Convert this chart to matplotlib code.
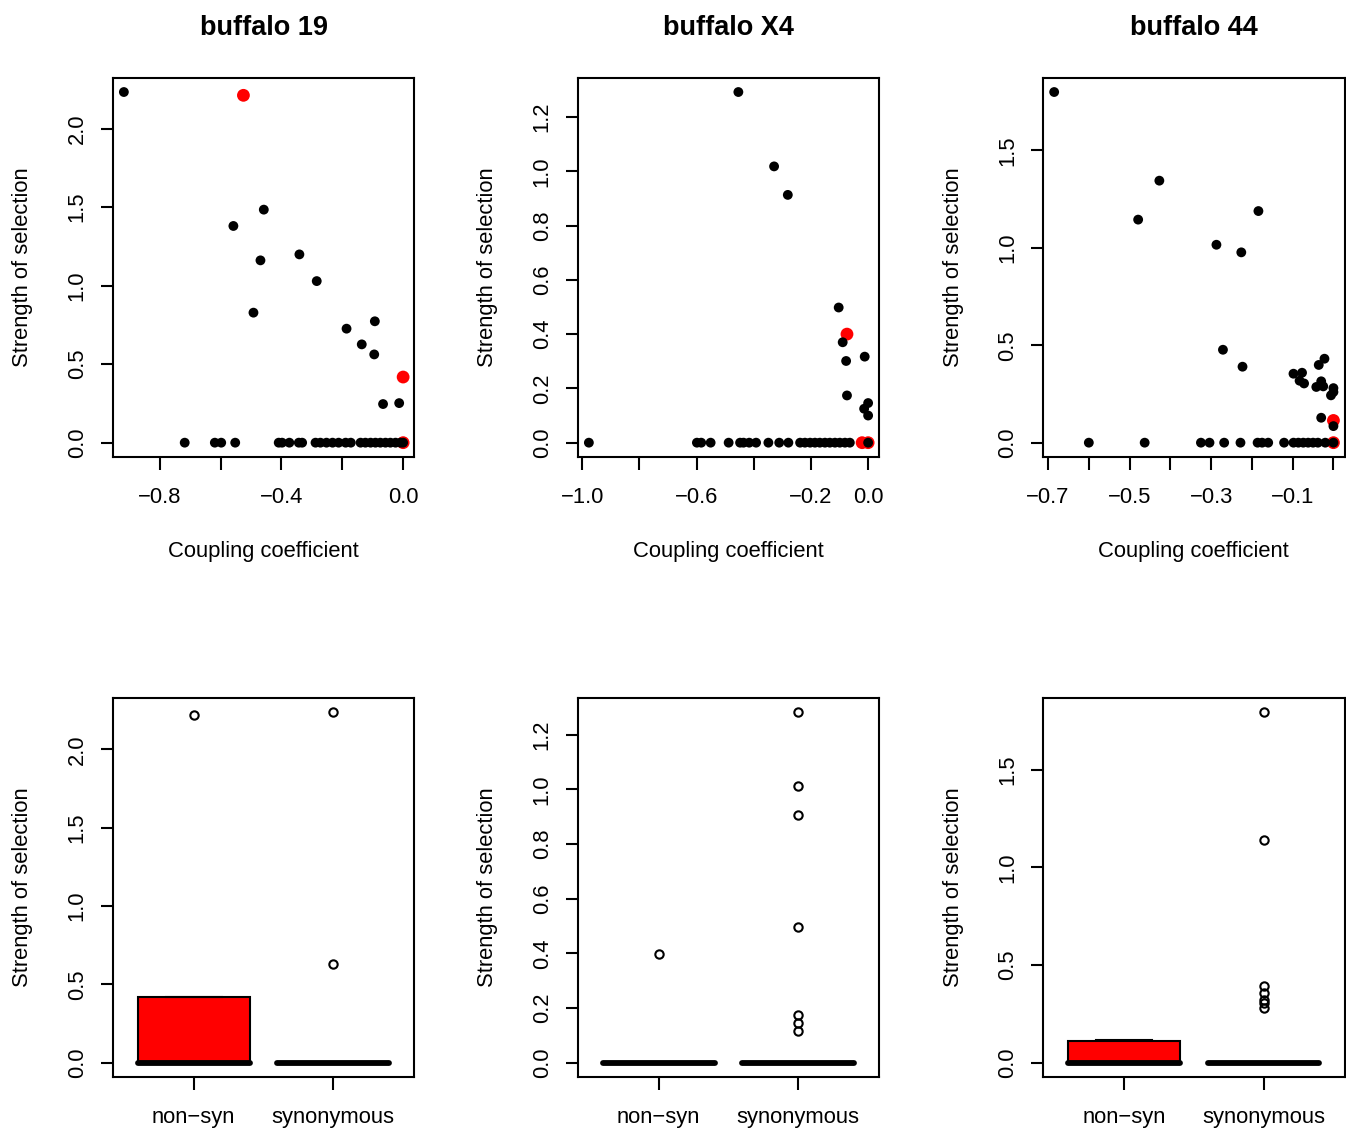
import numpy as np
import matplotlib.pyplot as plt

plt.rcParams['font.family'] = ['Liberation Sans', 'DejaVu Sans']

titles = ["buffalo 19", "buffalo X4", "buffalo 44"]

# --- scatter data: synonymous (black) and non-syn (red) ---
syn_x1 = [-0.918, -0.458, -0.558, -0.469, -0.341, -0.284, -0.492, -0.186, -0.093,
          -0.136, -0.095, -0.066, -0.013,
          -0.718, -0.619, -0.598, -0.552, -0.409, -0.398, -0.374, -0.343, -0.332,
          -0.288, -0.272, -0.252, -0.232, -0.212, -0.189, -0.172, -0.140, -0.124,
          -0.107, -0.091, -0.075, -0.058, -0.042, -0.025, -0.009, 0.0]
syn_y1 = [2.233, 1.484, 1.380, 1.161, 1.199, 1.029, 0.828, 0.726, 0.773,
          0.626, 0.562, 0.246, 0.252,
          0, 0, 0, 0, 0, 0, 0, 0, 0,
          0, 0, 0, 0, 0, 0, 0, 0, 0,
          0, 0, 0, 0, 0, 0, 0, 0]
non_x1 = [-0.525, 0.0, 0.0]
non_y1 = [2.212, 0.418, 0.0]

syn_x2 = [-0.454, -0.329, -0.281, -0.103, -0.089, -0.077, -0.012, -0.074, 0.0,
          -0.014, 0.0,
          -0.977, -0.599, -0.584, -0.551, -0.488, -0.448, -0.436, -0.416, -0.392,
          -0.349, -0.311, -0.279, -0.238, -0.221, -0.203, -0.186, -0.169, -0.151,
          -0.134, -0.116, -0.099, -0.081, -0.064, 0.0]
syn_y2 = [1.292, 1.018, 0.913, 0.498, 0.370, 0.301, 0.317, 0.174, 0.146,
          0.125, 0.100,
          0, 0, 0, 0, 0, 0, 0, 0, 0,
          0, 0, 0, 0, 0, 0, 0, 0, 0,
          0, 0, 0, 0, 0, 0]
non_x2 = [-0.074, -0.021, 0.0]
non_y2 = [0.400, 0.0, 0.0]

syn_x3 = [-0.685, -0.427, -0.479, -0.184, -0.287, -0.226, -0.271, -0.223, -0.022,
          -0.036, -0.098, -0.077, -0.083, -0.072, -0.030, -0.042, -0.025, 0.0,
          0.0, -0.006, -0.030, 0.0,
          -0.600, -0.463, -0.325, -0.304, -0.268, -0.228, -0.186, -0.175, -0.160,
          -0.121, -0.098, -0.086, -0.074, -0.062, -0.050, -0.038, -0.020, 0.0]
syn_y3 = [1.800, 1.345, 1.145, 1.189, 1.016, 0.977, 0.477, 0.390, 0.431,
          0.399, 0.354, 0.359, 0.318, 0.304, 0.315, 0.286, 0.289, 0.280,
          0.260, 0.243, 0.128, 0.085,
          0, 0, 0, 0, 0, 0, 0, 0, 0,
          0, 0, 0, 0, 0, 0, 0, 0, 0]
non_x3 = [0.0, 0.0]
non_y3 = [0.114, 0.0]

# --- boxplot data ---
box_labels = ["non\u2212syn", "synonymous"]
non_box1 = [0.0, 0.0, 0.0, 0.419, 2.220]
syn_box1 = [0.0] * 24 + [2.239, 0.628]
non_box2 = [0.0] * 4 + [0.396]
syn_box2 = [0.0] * 24 + [1.283, 1.011, 0.906, 0.495, 0.174, 0.144, 0.116]
non_box3 = [0.0, 0.0, 0.0, 0.111, 0.114]
syn_box3 = [0.0] * 24 + [1.796, 1.142, 0.391, 0.357, 0.323, 0.305, 0.282]

# --- ticks ---
xticks = [np.arange(-0.8, 0.01, 0.2), np.arange(-1.0, 0.01, 0.2), np.arange(-0.7, 0.01, 0.1)]
xticklabels = [["\u22120.8", "", "\u22120.4", "", "0.0"],
               ["\u22121.0", "", "\u22120.6", "", "\u22120.2", "0.0"],
               ["\u22120.7", "", "\u22120.5", "", "\u22120.3", "", "\u22120.1", ""]]
yticks = [[0, 0.5, 1.0, 1.5, 2.0], [0, 0.2, 0.4, 0.6, 0.8, 1.0, 1.2], [0, 0.5, 1.0, 1.5]]
yticklabels = [["0.0", "0.5", "1.0", "1.5", "2.0"],
               ["0.0", "0.2", "0.4", "0.6", "0.8", "1.0", "1.2"],
               ["0.0", "0.5", "1.0", "1.5"]]

scatter_sets = [(syn_x1, syn_y1, non_x1, non_y1),
                (syn_x2, syn_y2, non_x2, non_y2),
                (syn_x3, syn_y3, non_x3, non_y3)]
box_sets = [(non_box1, syn_box1), (non_box2, syn_box2), (non_box3, syn_box3)]

W, H = 1346, 1132
fig = plt.figure(figsize=(W / 100, H / 100), dpi=100)

lefts = [112.7, 577.7, 1043.0]
aw, ah = 301.6, 378.7
top_bottom = 456.7
bot_bottom = 1076.7
fs = 15.8


def style(ax):
    for s in ax.spines.values():
        s.set_linewidth(1.5)
    ax.tick_params(direction='out', length=9, width=1.5, labelsize=fs, pad=13)
    ax.tick_params(axis='y', labelrotation=90, pad=9)
    for lab in ax.get_yticklabels():
        lab.set_va('center')
    ax.yaxis.set_label_coords(-90 / aw, 0.5)
    ax.yaxis.label.set_va('center')


for i in range(3):
    sx, sy, nx, ny = scatter_sets[i]
    ax = fig.add_axes([lefts[i] / W, (H - top_bottom) / H, aw / W, ah / H])
    ax.scatter(nx, ny, s=85, color='red', edgecolors='none', zorder=2)
    ax.scatter(sx, sy, s=50, color='black', edgecolors='none', zorder=3)
    ax.margins(0.04)
    ax.set_xticks(xticks[i])
    ax.set_xticklabels(xticklabels[i])
    ax.set_yticks(yticks[i])
    ax.set_yticklabels(yticklabels[i])
    ax.set_title(titles[i], fontsize=19.5, fontweight='bold', pad=31)
    ax.set_xlabel("Coupling coefficient", fontsize=fs)
    ax.xaxis.set_label_coords(0.5, -95 / ah)
    ax.xaxis.label.set_va('center')
    ax.set_ylabel("Strength of selection", fontsize=fs)
    style(ax)

    nb, sb = box_sets[i]
    bx = fig.add_axes([lefts[i] / W, (H - bot_bottom) / H, aw / W, ah / H])
    bp = bx.boxplot([nb, sb], positions=[1, 2], widths=0.8, patch_artist=True,
                    medianprops=dict(color='black', linewidth=4.2, solid_capstyle='round'),
                    whiskerprops=dict(color='black', linewidth=1.5, linestyle='--'),
                    capprops=dict(color='black', linewidth=1.5),
                    boxprops=dict(edgecolor='black', linewidth=1.5),
                    flierprops=dict(marker='o', markerfacecolor='none',
                                    markeredgecolor='black', markersize=6,
                                    markeredgewidth=1.5))
    bp['boxes'][0].set_facecolor('red')
    bp['boxes'][1].set_facecolor('white')
    ally = nb + sb
    span = max(ally) - min(ally)
    bx.set_xlim(0.42, 2.58)
    bx.set_ylim(min(ally) - 0.04 * span, max(ally) + 0.04 * span)
    bx.set_xticks([1, 2])
    bx.set_xticklabels(box_labels)
    bx.set_yticks(yticks[i])
    bx.set_yticklabels(yticklabels[i])
    bx.set_ylabel("Strength of selection", fontsize=fs)
    style(bx)

fig.savefig("out.png", dpi=100)
